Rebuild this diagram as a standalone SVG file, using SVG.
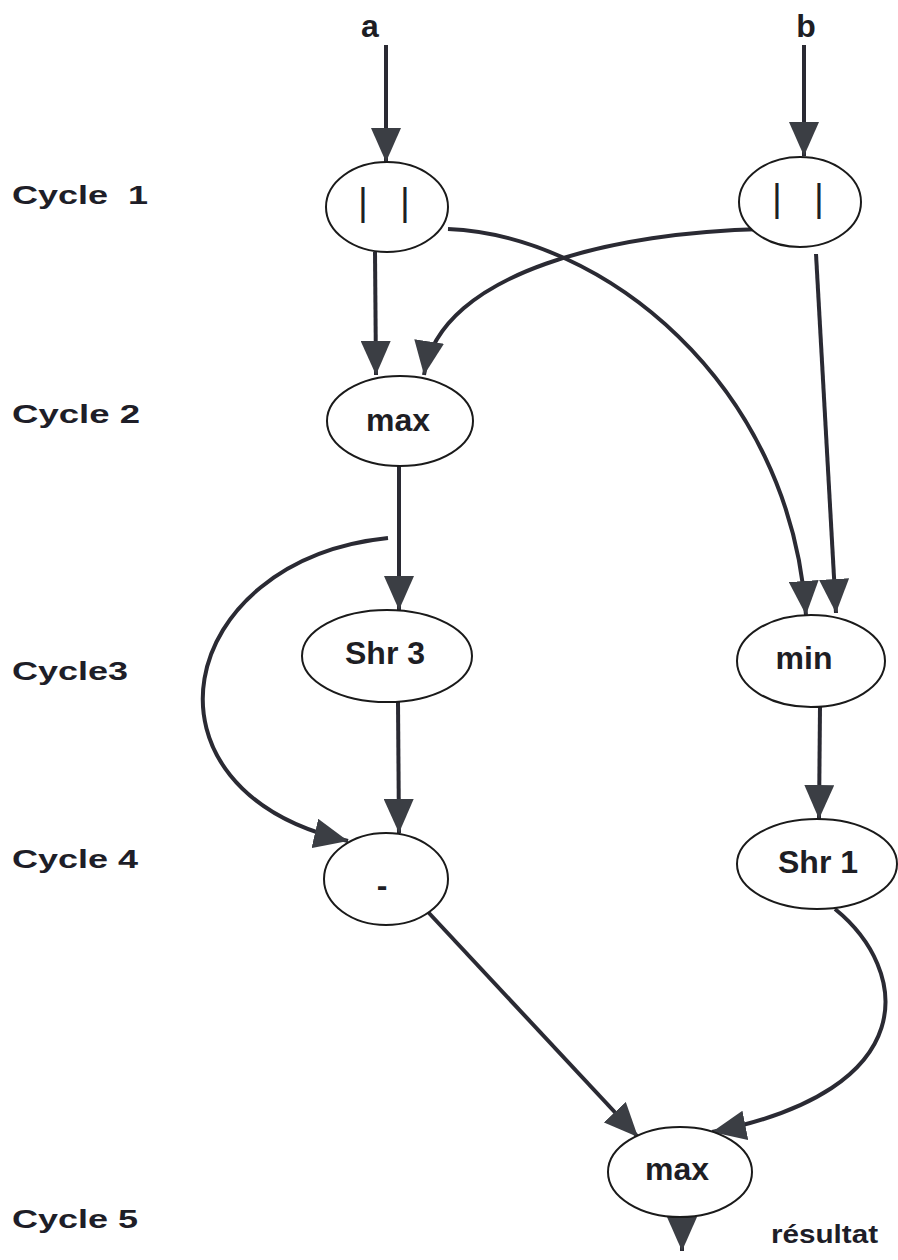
<svg xmlns="http://www.w3.org/2000/svg" width="898" height="1260" viewBox="0 0 898 1260">
  <style>
    .node { fill: #ffffff; stroke: #1a1a1a; stroke-width: 2; }
    .op { font-family: "Liberation Sans", Arial, sans-serif; font-weight: bold; font-size: 32px; fill: #1e1e24; text-anchor: middle; }
    .bars { font-family: "Liberation Sans", Arial, sans-serif; font-size: 38px; fill: #1e1e24; }
    .cycle { font-family: "Liberation Sans", Arial, sans-serif; font-weight: bold; font-size: 26px; fill: #1e1e28; }
    .io { font-family: "Liberation Sans", Arial, sans-serif; font-weight: bold; font-size: 32px; fill: #1e1e24; text-anchor: middle; }
    .edge { fill: none; stroke: #2a2a33; stroke-width: 4; marker-end: url(#head); }
  </style>
  <defs>
    <marker id="head" viewBox="0 0 34 30" refX="34" refY="15" markerWidth="34" markerHeight="30" markerUnits="userSpaceOnUse" orient="auto">
      <path d="M0,0 L34,15 L0,30 Z" fill="#3b3e44"/>
    </marker>
  </defs>

  <!-- cycle labels -->
  <g id="cycle-labels">
    <text class="cycle" x="12" y="204" textLength="136" lengthAdjust="spacingAndGlyphs" xml:space="preserve">Cycle  1</text>
    <text class="cycle" x="12" y="423" textLength="128" lengthAdjust="spacingAndGlyphs">Cycle 2</text>
    <text class="cycle" x="12" y="680" textLength="116" lengthAdjust="spacingAndGlyphs">Cycle3</text>
    <text class="cycle" x="12" y="868" textLength="126" lengthAdjust="spacingAndGlyphs">Cycle 4</text>
    <text class="cycle" x="12" y="1228" textLength="126" lengthAdjust="spacingAndGlyphs">Cycle 5</text>
  </g>

  <!-- inputs and output -->
  <g id="input-a"><text class="io" x="370" y="37">a</text></g>
  <g id="input-b"><text class="io" x="806" y="37">b</text></g>
  <g id="output"><text class="cycle" x="771" y="1243" font-size="24" textLength="107" lengthAdjust="spacingAndGlyphs">résultat</text></g>

  <!-- connectors -->
  <g id="connectors">
    <path class="edge" d="M386,45 L386,162"/>
    <path class="edge" d="M804,45 L804,156"/>
    <path class="edge" d="M375,252 L376,375"/>
    <path class="edge" d="M763,229 C620,232 440,270 424,375"/>
    <path class="edge" d="M448,229 C600,235 790,380 806,615"/>
    <path class="edge" d="M816,254 L836,613"/>
    <path class="edge" d="M399,466 L399,610"/>
    <path class="edge" d="M388,538 C175,560 125,790 348,841"/>
    <path class="edge" d="M398,702 L399,833"/>
    <path class="edge" d="M820,707 L819,819"/>
    <path class="edge" d="M428,912 L638,1137"/>
    <path class="edge" d="M835,909 C910,970 925,1090 712,1132"/>
    <path class="edge" d="M682,1217 L682,1251"/>
  </g>

  <!-- nodes -->
  <g id="abs-a">
    <ellipse class="node" cx="387" cy="207" rx="61" ry="45"/>
    <text class="bars" x="358" y="215">|<tspan dx="32">|</tspan></text>
  </g>
  <g id="abs-b">
    <ellipse class="node" cx="800" cy="202" rx="61" ry="45"/>
    <text class="bars" x="772" y="211">|<tspan dx="32">|</tspan></text>
  </g>
  <g id="max-1">
    <ellipse class="node" cx="400" cy="421" rx="73" ry="45"/>
    <text class="op" x="398" y="431">max</text>
  </g>
  <g id="shr-3">
    <ellipse class="node" cx="387" cy="656" rx="85" ry="46"/>
    <text class="op" x="385" y="664">Shr 3</text>
  </g>
  <g id="min">
    <ellipse class="node" cx="811" cy="661" rx="74" ry="46"/>
    <text class="op" x="804" y="669">min</text>
  </g>
  <g id="sub">
    <ellipse class="node" cx="386" cy="879" rx="62" ry="46"/>
    <text class="op" x="382" y="896">-</text>
  </g>
  <g id="shr-1">
    <ellipse class="node" cx="817" cy="864" rx="80" ry="45"/>
    <text class="op" x="818" y="873">Shr 1</text>
  </g>
  <g id="max-2">
    <ellipse class="node" cx="680" cy="1172" rx="72" ry="45"/>
    <text class="op" x="677" y="1180">max</text>
  </g>
</svg>
